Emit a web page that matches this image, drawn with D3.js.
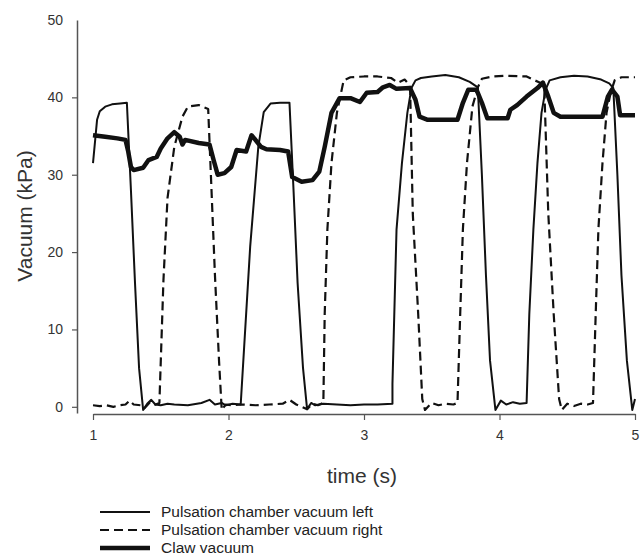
<!DOCTYPE html>
<html>
<head>
<meta charset="utf-8">
<script src="https://cdn.jsdelivr.net/npm/d3@7"></script>
<style>
  body { margin: 0; background: #fff; }
  svg text { font-family: Arial, "Liberation Sans", sans-serif; }
</style>
</head>
<body>
<div id="chart"></div>
<script>
// data: [time (s), vacuum (kPa)]
const pulsationLeft = [
  [1.00,31.5],[1.03,37.1],[1.05,38.2],[1.09,38.8],[1.14,39.1],[1.20,39.2],[1.25,39.3],
  [1.28,28],[1.31,16],[1.34,5],[1.37,-0.4],[1.40,0.4],[1.43,0.9],[1.46,0.3],[1.50,0.2],
  [1.55,0.4],[1.60,0.3],[1.70,0.2],[1.80,0.5],[1.86,0.9],[1.90,0.3],[1.95,0.5],[1.98,0.2],
  [2.03,0.4],[2.09,0.3],[2.16,20.7],[2.22,33.6],[2.26,38.1],[2.31,39.2],[2.38,39.3],[2.45,39.3],
  [2.48,28],[2.51,16],[2.55,5],[2.58,-0.3],[2.61,0.5],[2.64,0.2],[2.70,0.4],[2.80,0.3],
  [2.90,0.2],[3.00,0.3],[3.10,0.3],[3.21,0.4],[3.21,3],[3.24,22.9],[3.28,31.5],[3.32,38],
  [3.35,41.2],[3.38,42.2],[3.42,42.5],[3.50,42.7],[3.60,42.9],[3.70,42.6],[3.78,42.0],[3.84,41.3],
  [3.87,30],[3.90,17],[3.93,6],[3.97,-0.4],[4.01,0.8],[4.05,0.3],[4.10,0.6],[4.15,0.4],
  [4.20,0.5],[4.22,12],[4.25,22.9],[4.28,31.5],[4.31,38],[4.34,41],[4.37,42.2],[4.45,42.6],
  [4.55,42.8],[4.65,42.7],[4.75,42.3],[4.81,41.8],[4.84,41.2],[4.87,30],[4.90,17],[4.94,6],
  [4.98,-0.4],[5.00,1.0]
];

const pulsationRight = [
  [1.00,0.2],[1.05,0.1],[1.10,0.2],[1.15,0.0],[1.20,0.2],[1.24,0.3],[1.27,0.8],[1.30,0.3],
  [1.35,0.2],[1.38,-0.2],[1.42,0.6],[1.45,0.2],[1.49,0.5],[1.52,16.4],[1.55,27],[1.60,33.6],
  [1.66,37.5],[1.70,38.8],[1.78,39],[1.85,38.5],[1.87,30],[1.90,17],[1.93,6],[1.95,-0.4],
  [1.98,0.3],[2.02,0.2],[2.10,0.3],[2.20,0.2],[2.30,0.3],[2.40,0.4],[2.45,0.9],[2.50,0.3],
  [2.58,-0.3],[2.62,0.4],[2.66,0.2],[2.70,0.5],[2.71,12],[2.73,23],[2.76,31.5],[2.80,38],
  [2.85,42.2],[2.90,42.6],[3.00,42.7],[3.10,42.7],[3.20,42.5],[3.25,41.9],[3.30,42.3],[3.34,41.5],
  [3.36,25],[3.40,12],[3.43,1],[3.45,-0.4],[3.50,0.5],[3.55,0.2],[3.60,0.4],[3.66,0.3],
  [3.69,0.5],[3.71,12],[3.73,23],[3.76,31.5],[3.80,38.8],[3.84,41.3],[3.87,42.4],[3.95,42.7],
  [4.05,42.8],[4.20,42.7],[4.26,42.2],[4.30,41.9],[4.33,41.5],[4.36,25],[4.40,12],[4.44,1],
  [4.46,-0.4],[4.50,0.4],[4.55,0.1],[4.60,0.4],[4.65,0.3],[4.69,0.5],[4.71,12],[4.73,23],
  [4.76,31.5],[4.79,38],[4.82,40.6],[4.85,42.2],[4.90,42.6],[5.00,42.6]
];

const clawVacuum = [
  [1.00,35.1],[1.09,34.9],[1.18,34.7],[1.24,34.5],[1.26,33],[1.28,31],[1.30,30.6],[1.37,30.9],
  [1.41,31.9],[1.47,32.3],[1.50,33.4],[1.55,34.7],[1.60,35.5],[1.64,34.9],[1.66,33.9],[1.68,34.5],
  [1.78,34.1],[1.86,33.9],[1.89,31.9],[1.92,30],[1.97,30.2],[2.02,31],[2.06,33.2],[2.13,33.0],
  [2.17,35.1],[2.19,34.7],[2.24,33.6],[2.28,33.3],[2.38,33.2],[2.44,33.0],[2.47,29.7],[2.54,29.1],
  [2.62,29.3],[2.67,30.4],[2.71,33.6],[2.76,38],[2.82,39.9],[2.90,39.9],[2.97,39.4],[3.02,40.6],
  [3.10,40.7],[3.14,41.3],[3.19,41.6],[3.24,41.1],[3.34,41.2],[3.38,39.7],[3.41,37.5],[3.47,37.1],
  [3.69,37.1],[3.73,39.3],[3.77,41.0],[3.83,41.0],[3.87,39.3],[3.91,37.3],[4.06,37.3],[4.08,38.4],
  [4.13,39.0],[4.20,40.1],[4.28,41.2],[4.32,41.9],[4.36,40.1],[4.40,38.0],[4.45,37.5],[4.76,37.5],
  [4.80,40.1],[4.83,41.0],[4.87,40.1],[4.89,37.7],[5.00,37.7]
];

const xTicks = [1, 2, 3, 4, 5];
const yTicks = [0, 10, 20, 30, 40, 50];
const legendLabels = ['Pulsation chamber vacuum left', 'Pulsation chamber vacuum right', 'Claw vacuum'];

// size of the picture
const width = 640, height = 555;

var svg = d3.select('#chart')
  .append('svg')
    .attr('width', width)
    .attr('height', height);

// scales (y axis sits left of the x axis start, sigmaplot style)
let x = d3.scaleLinear()
  .domain([1, 5])
  .range([93, 635]);

let y = d3.scaleLinear()
  .domain([-0.8, 50])
  .range([413, 20]);

const axisCol = '#555';
const textCol = '#333';

// x axis
const xAxis = svg.append('g')
  .attr('transform', 'translate(0,414)')
  .call(d3.axisBottom(x).tickValues(xTicks).tickFormat(d3.format('d')).tickSize(6).tickSizeOuter(0));

// y axis
const yAxis = svg.append('g')
  .attr('transform', 'translate(77,0)')
  .call(d3.axisLeft(y).tickValues(yTicks).tickSize(5).tickSizeOuter(0));

[xAxis, yAxis].forEach(function(g) {
  g.select('.domain').attr('stroke', axisCol).attr('stroke-width', 1.5);
  g.selectAll('.tick line').attr('stroke', axisCol).attr('stroke-width', 1.2);
  g.selectAll('.tick text')
    .attr('fill', textCol)
    .style('font-size', '14px');
});
xAxis.selectAll('.tick text').attr('dy', '1.2em');
yAxis.selectAll('.tick text').attr('x', -14);
// no tick mark at the top of the y axis
yAxis.selectAll('.tick').filter(function(d) { return d === 50; }).select('line').remove();

// axis titles
svg.append('text')
  .attr('transform', 'translate(32,216) rotate(-90)')
  .attr('text-anchor', 'middle')
  .attr('fill', textCol)
  .style('font-size', '21px')
  .text('Vacuum (kPa)');

svg.append('text')
  .attr('x', 362)
  .attr('y', 483)
  .attr('text-anchor', 'middle')
  .attr('fill', textCol)
  .style('font-size', '21px')
  .text('time (s)');

var lineGenerator = d3.line()
  .x(function(d) { return x(d[0]); })
  .y(function(d) { return y(d[1]); });

const series = [
  { data: pulsationLeft, width: 2, dash: null },
  { data: pulsationRight, width: 2.2, dash: '9,5' },
  { data: clawVacuum, width: 4.5, dash: null }
];

svg.append('g')
  .selectAll('path')
  .data(series)
  .enter()
  .append('path')
  .attr('d', function(d) { return lineGenerator(d.data); })
  .attr('fill', 'none')
  .attr('stroke', '#111')
  .attr('stroke-width', function(d) { return d.width; })
  .attr('stroke-dasharray', function(d) { return d.dash; })
  .attr('stroke-linejoin', 'round');

// legend
const legend = svg.append('g')
  .selectAll('g')
  .data(series)
  .enter()
  .append('g')
  .attr('transform', function(d, i) { return 'translate(100,' + (512 + i * 18) + ')'; });

legend.append('line')
  .attr('x1', 0)
  .attr('x2', 50)
  .attr('stroke', '#111')
  .attr('stroke-width', function(d) { return d.width; })
  .attr('stroke-dasharray', function(d) { return d.dash; });

legend.append('text')
  .attr('x', 61)
  .attr('dy', '0.35em')
  .attr('fill', '#222')
  .style('font-size', '15.5px')
  .text(function(d, i) { return legendLabels[i]; });
</script>
</body>
</html>
